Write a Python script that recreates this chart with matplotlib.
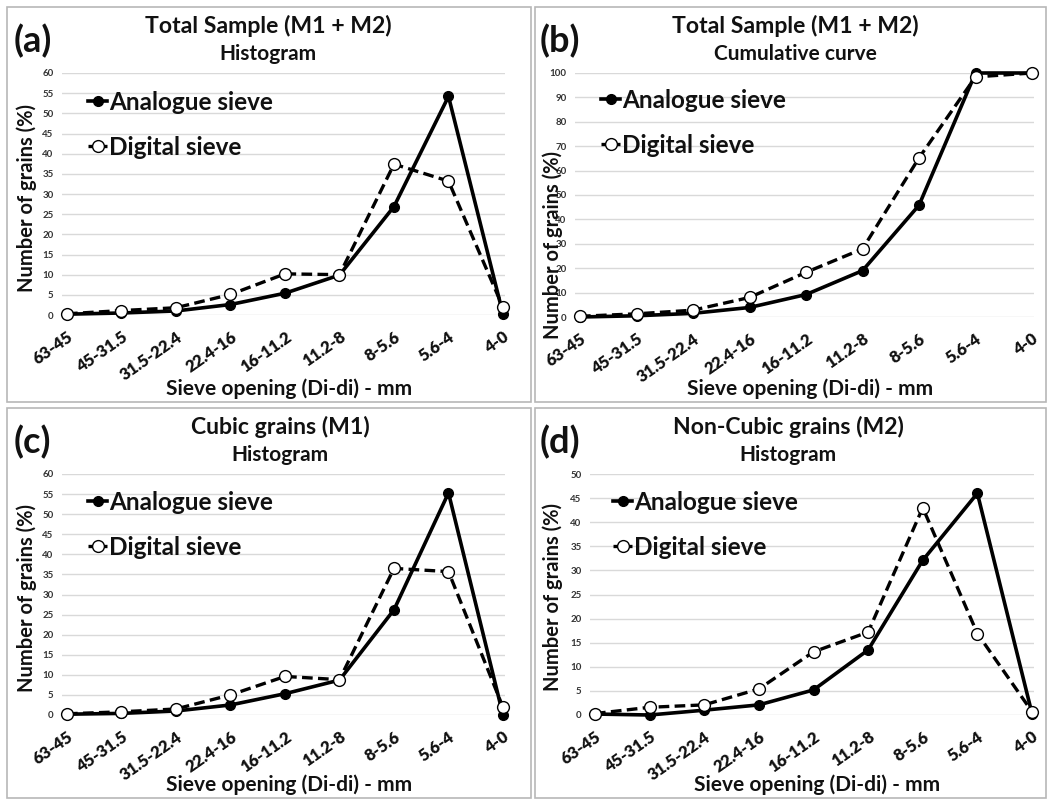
import matplotlib
matplotlib.use("Agg")
import matplotlib.pyplot as plt
from matplotlib.patches import Rectangle

W, H = 1049, 801

sieves = ["63-45", "45-31.5", "31.5-22.4", "22.4-16", "16-11.2",
          "11.2-8", "8-5.6", "5.6-4", "4-0"]

# (a) total sample, histogram
a_analogue = [0.2, 0.5, 1.0, 2.6, 5.4, 9.9, 26.9, 54.2, 0.2]
a_digital = [0.3, 1.1, 1.8, 5.1, 10.2, 10.0, 37.4, 33.2, 1.9]
# (b) total sample, cumulative
b_analogue = [0.0, 0.5, 1.5, 3.9, 9.2, 19.0, 45.8, 100.0, 100.0]
b_digital = [0.3, 1.3, 2.8, 8.0, 18.3, 27.9, 65.2, 98.4, 100.0]
# (c) cubic grains M1
c_analogue = [0.2, 0.4, 1.0, 2.5, 5.3, 8.7, 26.2, 55.3, 0.0]
c_digital = [0.3, 0.8, 1.5, 5.0, 9.6, 8.8, 36.5, 35.7, 1.9]
# (d) non-cubic grains M2
d_analogue = [0.2, 0.0, 1.0, 2.1, 5.2, 13.5, 32.1, 46.0, 0.3]
d_digital = [0.3, 1.6, 2.1, 5.4, 13.1, 17.2, 43.0, 16.9, 0.7]

plt.rcParams["font.family"] = ["Lato", "DejaVu Sans"]
plt.rcParams["font.weight"] = "bold"
TXT = "#111111"


def fx(px):
    return px / W


def fy(py):
    return 1 - py / H


panels = [
    dict(tag="(a)", title="Total Sample (M1 + M2)", sub="Histogram",
         an=a_analogue, di=a_digital, ymax=60, step=5,
         x0=67, x8=503, y0=315, ytop=73, box=(7, 7, 531, 402),
         ylab=(27, 198), leg=(88, 91), tcx=268, tag_x=14, top=7),
    dict(tag="(b)", title="Total Sample (M1 + M2)", sub="Cumulative curve",
         an=b_analogue, di=b_digital, ymax=100, step=10,
         x0=580, x8=1032, y0=317, ytop=73, box=(535, 7, 1046, 402),
         ylab=(553, 245), leg=(601, 89), tcx=795, tag_x=540, top=7),
    dict(tag="(c)", title="Cubic grains (M1)", sub="Histogram",
         an=c_analogue, di=c_digital, ymax=60, step=5,
         x0=67, x8=503, y0=715, ytop=474, box=(7, 408, 531, 798),
         ylab=(27, 598), leg=(88, 491), tcx=280, tag_x=14, top=408),
    dict(tag="(d)", title="Non-Cubic grains (M2)", sub="Histogram",
         an=d_analogue, di=d_digital, ymax=50, step=5,
         x0=595, x8=1032, y0=715, ytop=474, box=(535, 408, 1046, 798),
         ylab=(553, 597), leg=(613, 491), tcx=788, tag_x=540, top=408),
]

fig = plt.figure(figsize=(W / 100, H / 100), dpi=100)
fig.patch.set_facecolor("white")

x = list(range(len(sieves)))

for p in panels:
    bx0, by0, bx1, by1 = p["box"]
    fig.add_artist(Rectangle((fx(bx0), fy(by1)), (bx1 - bx0) / W, (by1 - by0) / H,
                             transform=fig.transFigure, fill=False,
                             ec="#b8b8b8", lw=1.2))

    unit = (p["x8"] - p["x0"]) / 8
    left_px = p["x0"] - 5
    right_px = p["x8"] + 2
    ax = fig.add_axes([fx(left_px), fy(p["y0"]), (right_px - left_px) / W,
                       (p["y0"] - p["ytop"]) / H])
    ax.set_xlim(-5 / unit, 8 + 2 / unit)
    ax.set_ylim(0, p["ymax"])

    ax.plot(x, p["an"], color="black", lw=2.6, marker="o", ms=7,
            mfc="black", mec="black", clip_on=False, zorder=3,
            label="Analogue sieve")
    ax.plot(x, p["di"], color="black", lw=2.4, ls=(0, (3.2, 1.6)), marker="o",
            ms=8.5, mfc="white", mec="black", mew=1.0, clip_on=False, zorder=4,
            label="Digital sieve")

    ax.set_yticks(range(0, p["ymax"] + 1, p["step"]))
    ax.tick_params(axis="y", length=0, labelsize=7, pad=6, labelcolor="#333333")
    ax.tick_params(axis="x", length=0, pad=10)
    ax.set_xticks(x)
    ax.set_xticklabels(sieves)
    for lbl in ax.get_xticklabels():
        lbl.set_rotation(35)
        lbl.set_rotation_mode("anchor")
        lbl.set_ha("right")
        lbl.set_va("top")
        lbl.set_fontsize(12)
        lbl.set_fontweight("heavy")
        lbl.set_color(TXT)
    ax.grid(axis="y", color="#d9d9d9", lw=1)
    ax.set_axisbelow(True)
    for s in ax.spines.values():
        s.set_visible(False)

    leg = ax.legend(loc="upper left", bbox_to_anchor=(fx(p["leg"][0]), fy(p["leg"][1])),
                    bbox_transform=fig.transFigure, frameon=False,
                    prop={"size": 17.5, "weight": "bold"},
                    handlelength=0.8, handletextpad=0.05, labelspacing=0.9,
                    borderpad=0, borderaxespad=0)
    for t in leg.get_texts():
        t.set_color(TXT)

    fig.text(fx(p["tcx"]), fy(p["top"] + 19), p["title"], ha="center", va="center",
             fontsize=16.6, color=TXT)
    fig.text(fx(p["tcx"]), fy(p["top"] + 47), p["sub"], ha="center", va="center",
             fontsize=15, color=TXT)
    fig.text(fx(p["tag_x"]), fy(p["top"] + 34), p["tag"], ha="left", va="center",
             fontsize=26, color=TXT)
    fig.text(fx(p["ylab"][0]), fy(p["ylab"][1]), "Number of grains (%)",
             rotation=90, ha="center", va="center", fontsize=14.5, color=TXT)
    fig.text(fx((p["x0"] + p["x8"]) / 2 + 4), fy(p["box"][3] - 13),
             "Sieve opening (Di-di) - mm", ha="center", va="center",
             fontsize=15, color=TXT)

fig.savefig("out.png", dpi=100)
